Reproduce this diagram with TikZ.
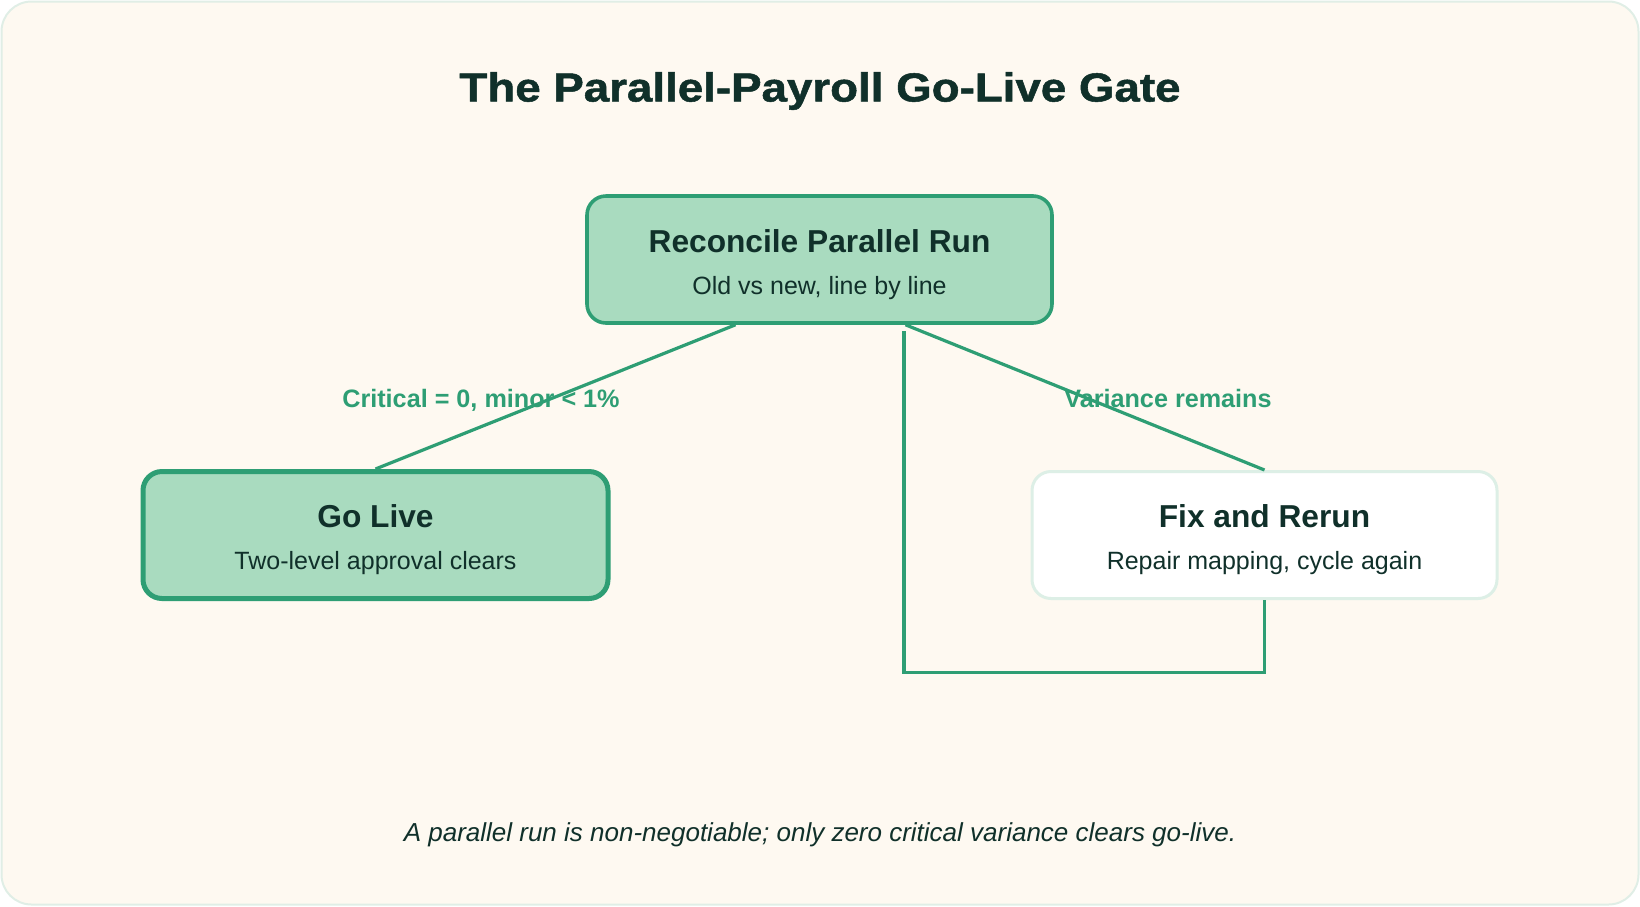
\documentclass[tikz,border=0pt]{standalone}
\usepackage{fontspec}
\setmainfont{Liberation Sans}
\newfontfamily\titlefont[FakeBold=1.2]{Liberation Sans Bold}
\usetikzlibrary{calc}
\definecolor{bg}{HTML}{FEF9F1}
\definecolor{framec}{HTML}{E0EEE6}
\definecolor{ink}{HTML}{10302A}
\definecolor{grn}{HTML}{2E9E74}
\definecolor{mint}{HTML}{A9DBBF}
\definecolor{pale}{HTML}{DDEFE6}
\tikzset{
  box/.style={rounded corners=19pt, minimum width=465pt, minimum height=127pt, inner sep=0pt},
  hd/.style={text=ink, font=\fontsize{31.7}{36}\selectfont\bfseries, inner sep=0pt},
  sub/.style={text=ink, font=\fontsize{25}{30}\selectfont, inner sep=0pt},
  lab/.style={text=grn, font=\fontsize{25.2}{30}\selectfont\bfseries, inner sep=0pt, text height=18.4pt, text depth=5pt},
  link/.style={draw=grn, line width=3.2pt},
}
\begin{document}
\begin{tikzpicture}[x=1pt,y=-1pt]
\useasboundingbox (0,0) rectangle (1640,906);
\draw[framec, line width=2pt, fill=bg, rounded corners=30pt] (1.5,1.5) rectangle (1638.5,904.5);
\node[text=ink, font=\fontsize{40.5}{46}\selectfont\titlefont, inner sep=0pt] (title) at (820,91) {\scalebox{1.128}[1]{The Parallel-Payroll Go-Live Gate}};

\node[box, fill=mint, draw=grn, line width=3.6pt] (rec) at (819.5,259.5) {};
\node[hd] (rect) at (819.5,241) {Reconcile Parallel Run};
\node[sub] (recs) at (819.5,288) {Old vs new, line by line};

\node[box, fill=mint, draw=grn, line width=5pt] (go) at (375.5,535) {};
\node[hd] (got) at (375.5,516.5) {Go Live};
\node[sub] (gos) at (375.5,563) {Two-level approval clears};

\node[box, fill=white, draw=pale, line width=3pt] (fix) at (1264.5,535) {};
\node[hd] (fixt) at (1264.5,516.5) {Fix and Rerun};
\node[sub] (fixs) at (1264.5,563) {Repair mapping, cycle again};

\draw[link] ($(rec.south)+(-84,0)$) -- (go.north);
\draw[link] ($(rec.south)+(86,0)$) -- (fix.north);
\draw[link] (fix.south) -- ++(0,72.5) -| ($(rec.south)+(84.5,6)$);

\node[lab] (l1) at (481,400.5) {Critical = 0, minor < 1\%};
\node[lab] (l2) at (1168,400.5) {Variance remains};

\node[text=ink, font=\fontsize{26}{31}\selectfont\itshape, inner sep=0pt] (foot) at (820,835) {A parallel run is non-negotiable; only zero critical variance clears go-live.};
\end{tikzpicture}
\end{document}
